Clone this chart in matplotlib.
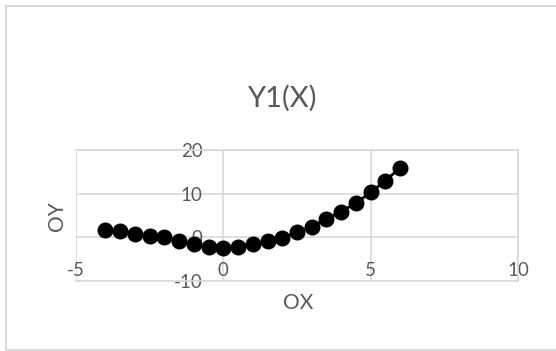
import matplotlib
matplotlib.use("Agg")
import matplotlib.pyplot as plt
from matplotlib.patches import Rectangle

# sampled points of Y1(X)
x_vals = [-4.0, -3.5, -3.0, -2.5, -2.0, -1.5, -1.0, -0.5, 0.0, 0.5,
          1.0, 1.5, 2.0, 2.5, 3.0, 3.5, 4.0, 4.5, 5.0, 5.5, 6.0]
y_vals = [1.7, 1.45, 0.85, 0.2, 0.0, -0.85, -1.6, -2.3, -2.35, -2.2,
          -1.45, -0.9, -0.05, 1.15, 2.45, 4.2, 5.9, 7.85, 10.3, 13.0, 15.9]
x_ticks = [-5, 0, 5, 10]
y_ticks = [-10, 0, 10, 20]

plt.rcParams['font.family'] = ['Lato', 'DejaVu Sans']
plt.rcParams['axes.unicode_minus'] = False
grey = '#595959'
grid_c = '#d9d9d9'

fig = plt.figure(figsize=(5.56, 3.51), dpi=100)
fig.patches.append(Rectangle((6 / 556, 1 / 351), 1.0, 344 / 351, transform=fig.transFigure,
                             fill=False, edgecolor=grid_c, linewidth=1.5, clip_on=False))

ax = fig.add_axes([76 / 556, 1 - 281 / 351, 442 / 556, 131 / 351])
ax.plot(x_vals, y_vals, color='black', linewidth=2, marker='o', markersize=10.5,
        zorder=3, clip_on=False)

ax.set_xlim(-5, 10)
ax.set_ylim(-10, 20)
ax.set_xticks(x_ticks)
ax.set_yticks(y_ticks)
ax.grid(True, color=grid_c, linewidth=1.2)
ax.set_axisbelow(True)
for s in ax.spines.values():
    s.set_color(grid_c)
    s.set_linewidth(1.2)

# y labels sit next to the x=0 line, x labels just above the bottom edge
ax.spines['left'].set_position(('data', 0))
ax.spines['left'].set_visible(False)
ax.tick_params(axis='y', length=0, pad=15, labelsize=13.5, labelcolor=grey)
ax.tick_params(axis='x', length=0, pad=-14, labelsize=13.5, labelcolor=grey)

fig.text(282 / 556, 1 - 98 / 351, 'Y1(X)', ha='center', va='center', fontsize=21, color=grey)
fig.text(298 / 556, 1 - 303 / 351, 'OX', ha='center', va='center', fontsize=15, color=grey)
fig.text(57 / 556, 1 - 216 / 351, 'OY', ha='center', va='center', fontsize=15, color=grey,
         rotation=90)

fig.savefig('out.png', dpi=100)
